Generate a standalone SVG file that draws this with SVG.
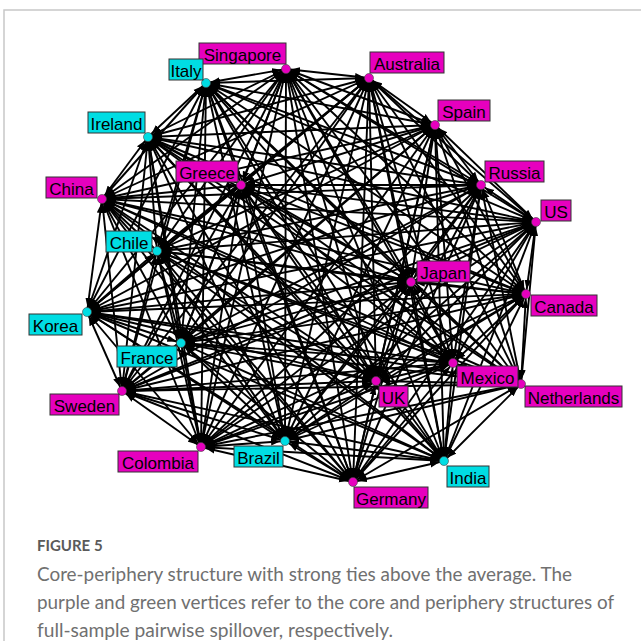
<svg xmlns="http://www.w3.org/2000/svg" width="641" height="641" viewBox="0 0 641 641">
<style>
#edges line{stroke:#000;stroke-width:1.9;marker-start:url(#ah);marker-end:url(#ah)}
.c{fill:#E600BE}
.p{fill:#00DDE3}
.n circle{stroke:#444;stroke-width:0.6}
.n rect{stroke:#333;stroke-width:1}
.n text{font-family:"Liberation Sans",Arial,sans-serif;font-size:17px;fill:#000;text-anchor:middle}
.cap{font-family:Lato,"Open Sans",sans-serif;font-size:19.5px;fill:#707070}
.fig{font-family:Lato,"Open Sans",sans-serif;font-size:15px;font-weight:bold;fill:#5a5a5a}
</style>
<defs>
<marker id="ah" markerUnits="userSpaceOnUse" markerWidth="15" markerHeight="8" viewBox="0 0 15 8" refX="14" refY="4" orient="auto-start-reverse"><path d="M0,0.6 L9.5,4 L0,7.4 z" fill="#000"/></marker>
</defs>
<rect width="641" height="641" fill="#fff"/>
<path d="M4,641 V10 H641" fill="none" stroke="#c8c8c8" stroke-width="1.5"/>
<g id="edges">
<line x1="286" y1="69" x2="369" y2="78"/>
<line x1="286" y1="69" x2="435" y2="125"/>
<line x1="286" y1="69" x2="481" y2="185"/>
<line x1="286" y1="69" x2="536" y2="222"/>
<line x1="286" y1="69" x2="526" y2="294"/>
<line x1="286" y1="69" x2="521" y2="384"/>
<line x1="286" y1="69" x2="453" y2="363"/>
<line x1="286" y1="69" x2="411" y2="282"/>
<line x1="286" y1="69" x2="376" y2="381"/>
<line x1="286" y1="69" x2="444" y2="461"/>
<line x1="286" y1="69" x2="353" y2="482"/>
<line x1="286" y1="69" x2="285" y2="441"/>
<line x1="286" y1="69" x2="201" y2="447"/>
<line x1="286" y1="69" x2="122" y2="391"/>
<line x1="286" y1="69" x2="181" y2="343"/>
<line x1="286" y1="69" x2="87" y2="312"/>
<line x1="286" y1="69" x2="157" y2="251"/>
<line x1="286" y1="69" x2="102" y2="199"/>
<line x1="286" y1="69" x2="241" y2="185"/>
<line x1="286" y1="69" x2="148" y2="137"/>
<line x1="286" y1="69" x2="206" y2="83"/>
<line x1="369" y1="78" x2="435" y2="125"/>
<line x1="369" y1="78" x2="481" y2="185"/>
<line x1="369" y1="78" x2="536" y2="222"/>
<line x1="369" y1="78" x2="526" y2="294"/>
<line x1="369" y1="78" x2="521" y2="384"/>
<line x1="369" y1="78" x2="453" y2="363"/>
<line x1="369" y1="78" x2="411" y2="282"/>
<line x1="369" y1="78" x2="376" y2="381"/>
<line x1="369" y1="78" x2="444" y2="461"/>
<line x1="369" y1="78" x2="353" y2="482"/>
<line x1="369" y1="78" x2="285" y2="441"/>
<line x1="369" y1="78" x2="201" y2="447"/>
<line x1="369" y1="78" x2="122" y2="391"/>
<line x1="369" y1="78" x2="181" y2="343"/>
<line x1="369" y1="78" x2="87" y2="312"/>
<line x1="369" y1="78" x2="157" y2="251"/>
<line x1="369" y1="78" x2="102" y2="199"/>
<line x1="369" y1="78" x2="241" y2="185"/>
<line x1="369" y1="78" x2="148" y2="137"/>
<line x1="369" y1="78" x2="206" y2="83"/>
<line x1="435" y1="125" x2="481" y2="185"/>
<line x1="435" y1="125" x2="536" y2="222"/>
<line x1="435" y1="125" x2="526" y2="294"/>
<line x1="435" y1="125" x2="521" y2="384"/>
<line x1="435" y1="125" x2="453" y2="363"/>
<line x1="435" y1="125" x2="411" y2="282"/>
<line x1="435" y1="125" x2="376" y2="381"/>
<line x1="435" y1="125" x2="444" y2="461"/>
<line x1="435" y1="125" x2="353" y2="482"/>
<line x1="435" y1="125" x2="285" y2="441"/>
<line x1="435" y1="125" x2="201" y2="447"/>
<line x1="435" y1="125" x2="122" y2="391"/>
<line x1="435" y1="125" x2="181" y2="343"/>
<line x1="435" y1="125" x2="87" y2="312"/>
<line x1="435" y1="125" x2="157" y2="251"/>
<line x1="435" y1="125" x2="102" y2="199"/>
<line x1="435" y1="125" x2="241" y2="185"/>
<line x1="435" y1="125" x2="148" y2="137"/>
<line x1="435" y1="125" x2="206" y2="83"/>
<line x1="481" y1="185" x2="536" y2="222"/>
<line x1="481" y1="185" x2="526" y2="294"/>
<line x1="481" y1="185" x2="521" y2="384"/>
<line x1="481" y1="185" x2="453" y2="363"/>
<line x1="481" y1="185" x2="411" y2="282"/>
<line x1="481" y1="185" x2="376" y2="381"/>
<line x1="481" y1="185" x2="444" y2="461"/>
<line x1="481" y1="185" x2="353" y2="482"/>
<line x1="481" y1="185" x2="285" y2="441"/>
<line x1="481" y1="185" x2="201" y2="447"/>
<line x1="481" y1="185" x2="122" y2="391"/>
<line x1="481" y1="185" x2="181" y2="343"/>
<line x1="481" y1="185" x2="87" y2="312"/>
<line x1="481" y1="185" x2="157" y2="251"/>
<line x1="481" y1="185" x2="102" y2="199"/>
<line x1="481" y1="185" x2="241" y2="185"/>
<line x1="481" y1="185" x2="148" y2="137"/>
<line x1="481" y1="185" x2="206" y2="83"/>
<line x1="536" y1="222" x2="526" y2="294"/>
<line x1="536" y1="222" x2="521" y2="384"/>
<line x1="536" y1="222" x2="453" y2="363"/>
<line x1="536" y1="222" x2="411" y2="282"/>
<line x1="536" y1="222" x2="376" y2="381"/>
<line x1="536" y1="222" x2="444" y2="461"/>
<line x1="536" y1="222" x2="353" y2="482"/>
<line x1="536" y1="222" x2="285" y2="441"/>
<line x1="536" y1="222" x2="201" y2="447"/>
<line x1="536" y1="222" x2="122" y2="391"/>
<line x1="536" y1="222" x2="181" y2="343"/>
<line x1="536" y1="222" x2="87" y2="312"/>
<line x1="536" y1="222" x2="157" y2="251"/>
<line x1="536" y1="222" x2="102" y2="199"/>
<line x1="536" y1="222" x2="241" y2="185"/>
<line x1="536" y1="222" x2="148" y2="137"/>
<line x1="536" y1="222" x2="206" y2="83"/>
<line x1="526" y1="294" x2="521" y2="384"/>
<line x1="526" y1="294" x2="453" y2="363"/>
<line x1="526" y1="294" x2="411" y2="282"/>
<line x1="526" y1="294" x2="376" y2="381"/>
<line x1="526" y1="294" x2="444" y2="461"/>
<line x1="526" y1="294" x2="353" y2="482"/>
<line x1="526" y1="294" x2="285" y2="441"/>
<line x1="526" y1="294" x2="201" y2="447"/>
<line x1="526" y1="294" x2="122" y2="391"/>
<line x1="526" y1="294" x2="181" y2="343"/>
<line x1="526" y1="294" x2="87" y2="312"/>
<line x1="526" y1="294" x2="157" y2="251"/>
<line x1="526" y1="294" x2="102" y2="199"/>
<line x1="526" y1="294" x2="241" y2="185"/>
<line x1="526" y1="294" x2="148" y2="137"/>
<line x1="526" y1="294" x2="206" y2="83"/>
<line x1="521" y1="384" x2="453" y2="363"/>
<line x1="521" y1="384" x2="411" y2="282"/>
<line x1="521" y1="384" x2="376" y2="381"/>
<line x1="521" y1="384" x2="444" y2="461"/>
<line x1="521" y1="384" x2="353" y2="482"/>
<line x1="521" y1="384" x2="285" y2="441"/>
<line x1="521" y1="384" x2="201" y2="447"/>
<line x1="521" y1="384" x2="122" y2="391"/>
<line x1="521" y1="384" x2="181" y2="343"/>
<line x1="521" y1="384" x2="87" y2="312"/>
<line x1="521" y1="384" x2="157" y2="251"/>
<line x1="521" y1="384" x2="102" y2="199"/>
<line x1="521" y1="384" x2="241" y2="185"/>
<line x1="521" y1="384" x2="148" y2="137"/>
<line x1="521" y1="384" x2="206" y2="83"/>
<line x1="453" y1="363" x2="411" y2="282"/>
<line x1="453" y1="363" x2="376" y2="381"/>
<line x1="453" y1="363" x2="444" y2="461"/>
<line x1="453" y1="363" x2="353" y2="482"/>
<line x1="453" y1="363" x2="285" y2="441"/>
<line x1="453" y1="363" x2="201" y2="447"/>
<line x1="453" y1="363" x2="122" y2="391"/>
<line x1="453" y1="363" x2="181" y2="343"/>
<line x1="453" y1="363" x2="87" y2="312"/>
<line x1="453" y1="363" x2="157" y2="251"/>
<line x1="453" y1="363" x2="102" y2="199"/>
<line x1="453" y1="363" x2="241" y2="185"/>
<line x1="453" y1="363" x2="148" y2="137"/>
<line x1="453" y1="363" x2="206" y2="83"/>
<line x1="411" y1="282" x2="376" y2="381"/>
<line x1="411" y1="282" x2="444" y2="461"/>
<line x1="411" y1="282" x2="353" y2="482"/>
<line x1="411" y1="282" x2="285" y2="441"/>
<line x1="411" y1="282" x2="201" y2="447"/>
<line x1="411" y1="282" x2="122" y2="391"/>
<line x1="411" y1="282" x2="181" y2="343"/>
<line x1="411" y1="282" x2="87" y2="312"/>
<line x1="411" y1="282" x2="157" y2="251"/>
<line x1="411" y1="282" x2="102" y2="199"/>
<line x1="411" y1="282" x2="241" y2="185"/>
<line x1="411" y1="282" x2="148" y2="137"/>
<line x1="411" y1="282" x2="206" y2="83"/>
<line x1="376" y1="381" x2="444" y2="461"/>
<line x1="376" y1="381" x2="353" y2="482"/>
<line x1="376" y1="381" x2="285" y2="441"/>
<line x1="376" y1="381" x2="201" y2="447"/>
<line x1="376" y1="381" x2="122" y2="391"/>
<line x1="376" y1="381" x2="181" y2="343"/>
<line x1="376" y1="381" x2="87" y2="312"/>
<line x1="376" y1="381" x2="157" y2="251"/>
<line x1="376" y1="381" x2="102" y2="199"/>
<line x1="376" y1="381" x2="241" y2="185"/>
<line x1="376" y1="381" x2="148" y2="137"/>
<line x1="376" y1="381" x2="206" y2="83"/>
<line x1="444" y1="461" x2="353" y2="482"/>
<line x1="444" y1="461" x2="285" y2="441"/>
<line x1="444" y1="461" x2="201" y2="447"/>
<line x1="444" y1="461" x2="122" y2="391"/>
<line x1="444" y1="461" x2="181" y2="343"/>
<line x1="444" y1="461" x2="87" y2="312"/>
<line x1="444" y1="461" x2="157" y2="251"/>
<line x1="444" y1="461" x2="102" y2="199"/>
<line x1="444" y1="461" x2="241" y2="185"/>
<line x1="444" y1="461" x2="148" y2="137"/>
<line x1="444" y1="461" x2="206" y2="83"/>
<line x1="353" y1="482" x2="285" y2="441"/>
<line x1="353" y1="482" x2="201" y2="447"/>
<line x1="353" y1="482" x2="122" y2="391"/>
<line x1="353" y1="482" x2="181" y2="343"/>
<line x1="353" y1="482" x2="87" y2="312"/>
<line x1="353" y1="482" x2="157" y2="251"/>
<line x1="353" y1="482" x2="102" y2="199"/>
<line x1="353" y1="482" x2="241" y2="185"/>
<line x1="353" y1="482" x2="148" y2="137"/>
<line x1="353" y1="482" x2="206" y2="83"/>
<line x1="285" y1="441" x2="201" y2="447"/>
<line x1="285" y1="441" x2="122" y2="391"/>
<line x1="285" y1="441" x2="181" y2="343"/>
<line x1="285" y1="441" x2="87" y2="312"/>
<line x1="285" y1="441" x2="157" y2="251"/>
<line x1="285" y1="441" x2="102" y2="199"/>
<line x1="285" y1="441" x2="241" y2="185"/>
<line x1="285" y1="441" x2="148" y2="137"/>
<line x1="285" y1="441" x2="206" y2="83"/>
<line x1="201" y1="447" x2="122" y2="391"/>
<line x1="201" y1="447" x2="181" y2="343"/>
<line x1="201" y1="447" x2="87" y2="312"/>
<line x1="201" y1="447" x2="157" y2="251"/>
<line x1="201" y1="447" x2="102" y2="199"/>
<line x1="201" y1="447" x2="241" y2="185"/>
<line x1="201" y1="447" x2="148" y2="137"/>
<line x1="201" y1="447" x2="206" y2="83"/>
<line x1="122" y1="391" x2="181" y2="343"/>
<line x1="122" y1="391" x2="87" y2="312"/>
<line x1="122" y1="391" x2="157" y2="251"/>
<line x1="122" y1="391" x2="102" y2="199"/>
<line x1="122" y1="391" x2="241" y2="185"/>
<line x1="122" y1="391" x2="148" y2="137"/>
<line x1="122" y1="391" x2="206" y2="83"/>
<line x1="181" y1="343" x2="87" y2="312"/>
<line x1="181" y1="343" x2="157" y2="251"/>
<line x1="181" y1="343" x2="102" y2="199"/>
<line x1="181" y1="343" x2="241" y2="185"/>
<line x1="181" y1="343" x2="148" y2="137"/>
<line x1="181" y1="343" x2="206" y2="83"/>
<line x1="87" y1="312" x2="157" y2="251"/>
<line x1="87" y1="312" x2="102" y2="199"/>
<line x1="87" y1="312" x2="241" y2="185"/>
<line x1="87" y1="312" x2="148" y2="137"/>
<line x1="87" y1="312" x2="206" y2="83"/>
<line x1="157" y1="251" x2="102" y2="199"/>
<line x1="157" y1="251" x2="241" y2="185"/>
<line x1="157" y1="251" x2="148" y2="137"/>
<line x1="157" y1="251" x2="206" y2="83"/>
<line x1="102" y1="199" x2="241" y2="185"/>
<line x1="102" y1="199" x2="148" y2="137"/>
<line x1="102" y1="199" x2="206" y2="83"/>
<line x1="241" y1="185" x2="148" y2="137"/>
<line x1="241" y1="185" x2="206" y2="83"/>
<line x1="148" y1="137" x2="206" y2="83"/>
</g>
<g id="n-singapore" class="n"><circle class="c" cx="286" cy="69" r="4.5"/><rect class="c" x="199" y="43" width="87" height="21"/><text x="242.5" y="61">Singapore</text></g>
<g id="n-australia" class="n"><circle class="c" cx="369" cy="78" r="4.5"/><rect class="c" x="370" y="52" width="74" height="21"/><text x="407" y="70">Australia</text></g>
<g id="n-spain" class="n"><circle class="c" cx="435" cy="125" r="4.5"/><rect class="c" x="438" y="100" width="52" height="21"/><text x="464" y="118">Spain</text></g>
<g id="n-russia" class="n"><circle class="c" cx="481" cy="185" r="4.5"/><rect class="c" x="485" y="161" width="59" height="21"/><text x="514.5" y="179">Russia</text></g>
<g id="n-us" class="n"><circle class="c" cx="536" cy="222" r="4.5"/><rect class="c" x="541" y="200" width="30" height="21"/><text x="556" y="218">US</text></g>
<g id="n-canada" class="n"><circle class="c" cx="526" cy="294" r="4.5"/><rect class="c" x="531" y="295" width="66" height="21"/><text x="564" y="313">Canada</text></g>
<g id="n-netherlands" class="n"><circle class="c" cx="521" cy="384" r="4.5"/><rect class="c" x="525" y="386" width="97" height="21"/><text x="573.5" y="404">Netherlands</text></g>
<g id="n-mexico" class="n"><circle class="c" cx="453" cy="363" r="4.5"/><rect class="c" x="457" y="366" width="61" height="21"/><text x="487.5" y="384">Mexico</text></g>
<g id="n-japan" class="n"><circle class="c" cx="411" cy="282" r="4.5"/><rect class="c" x="417" y="261" width="53" height="21"/><text x="443.5" y="279">Japan</text></g>
<g id="n-uk" class="n"><circle class="c" cx="376" cy="381" r="4.5"/><rect class="c" x="379" y="386" width="29" height="21"/><text x="393.5" y="404">UK</text></g>
<g id="n-india" class="n"><circle class="p" cx="444" cy="461" r="4.5"/><rect class="p" x="447" y="466" width="42" height="21"/><text x="468" y="484">India</text></g>
<g id="n-germany" class="n"><circle class="c" cx="353" cy="482" r="4.5"/><rect class="c" x="354" y="487" width="74" height="21"/><text x="391" y="505">Germany</text></g>
<g id="n-brazil" class="n"><circle class="p" cx="285" cy="441" r="4.5"/><rect class="p" x="234" y="446" width="49" height="21"/><text x="258.5" y="464">Brazil</text></g>
<g id="n-colombia" class="n"><circle class="c" cx="201" cy="447" r="4.5"/><rect class="c" x="118" y="451" width="80" height="21"/><text x="158" y="469">Colombia</text></g>
<g id="n-sweden" class="n"><circle class="c" cx="122" cy="391" r="4.5"/><rect class="c" x="50" y="394" width="69" height="21"/><text x="84.5" y="412">Sweden</text></g>
<g id="n-france" class="n"><circle class="p" cx="181" cy="343" r="4.5"/><rect class="p" x="117" y="346" width="60" height="21"/><text x="147" y="364">France</text></g>
<g id="n-korea" class="n"><circle class="p" cx="87" cy="312" r="4.5"/><rect class="p" x="29" y="314" width="53" height="21"/><text x="55.5" y="332">Korea</text></g>
<g id="n-chile" class="n"><circle class="p" cx="157" cy="251" r="4.5"/><rect class="p" x="106" y="231" width="46" height="21"/><text x="129" y="249">Chile</text></g>
<g id="n-china" class="n"><circle class="c" cx="102" cy="199" r="4.5"/><rect class="c" x="46" y="177" width="51" height="21"/><text x="71.5" y="195">China</text></g>
<g id="n-greece" class="n"><circle class="c" cx="241" cy="185" r="4.5"/><rect class="c" x="176" y="161" width="62" height="21"/><text x="207" y="179">Greece</text></g>
<g id="n-ireland" class="n"><circle class="p" cx="148" cy="137" r="4.5"/><rect class="p" x="88" y="112" width="57" height="21"/><text x="116.5" y="130">Ireland</text></g>
<g id="n-italy" class="n"><circle class="p" cx="206" cy="83" r="4.5"/><rect class="p" x="169" y="59" width="34" height="21"/><text x="186" y="77">Italy</text></g>
<g id="caption">
<text class="fig" x="37" y="551">FIGURE 5</text>
<text class="cap" x="37" y="581" textLength="535" lengthAdjust="spacingAndGlyphs">Core-periphery structure with strong ties above the average. The</text>
<text class="cap" x="37" y="609" textLength="577" lengthAdjust="spacingAndGlyphs">purple and green vertices refer to the core and periphery structures of</text>
<text class="cap" x="37" y="637" textLength="356" lengthAdjust="spacingAndGlyphs">full-sample pairwise spillover, respectively.</text>
</g>
</svg>
